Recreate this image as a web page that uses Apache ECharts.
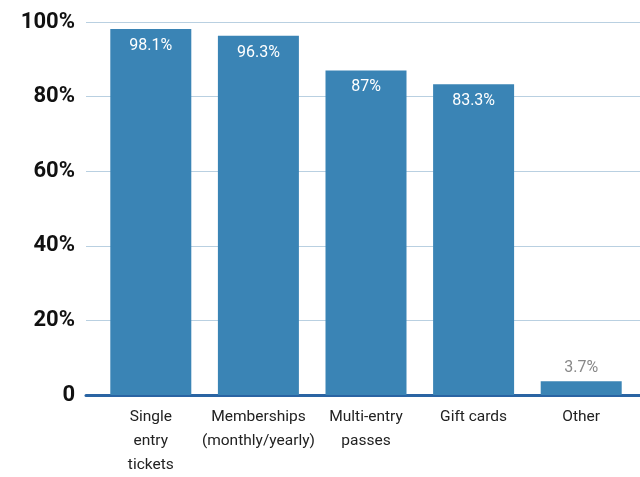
<!DOCTYPE html>
<html><head><meta charset="utf-8">
<script src="https://cdn.jsdelivr.net/npm/echarts@6/dist/echarts.min.js"></script>
<style>html,body{margin:0;padding:0;background:#fff}#c{width:640px;height:477px}</style>
</head><body><div id="c"></div>
<script>
const categories = ["Single\nentry\ntickets", "Memberships\n(monthly/yearly)", "Multi-entry\npasses", "Gift cards", "Other"];
const values = [98.1, 96.3, 87, 83.3, 3.7];
const yTicks = [0, 20, 40, 60, 80, 100];

const chart = echarts.init(document.getElementById('c'));
chart.setOption({
  animation: false,
  grid: [
    {left: 86, right: 0, top: 22, bottom: 82},
    {left: 97, right: 5, top: 22, bottom: 82}
  ],
  xAxis: [
    {type: 'value', gridIndex: 0, min: 0, max: 1, show: true,
     axisLine: {show: true, lineStyle: {color: '#2a64a3', width: 3}},
     axisTick: {show: false}, axisLabel: {show: false}, splitLine: {show: false}},
    {type: 'category', gridIndex: 1, data: categories,
     axisLine: {show: false}, axisTick: {show: false},
     axisLabel: {color: '#222', fontFamily: 'Roboto', fontSize: 15.5, lineHeight: 24, margin: 10, interval: 0}}
  ],
  yAxis: [
    {type: 'value', gridIndex: 0, min: 0, max: 100, interval: 20,
     axisLine: {show: false}, axisTick: {show: false},
     splitLine: {lineStyle: {color: '#b9d0e1', width: 1}},
     axisLabel: {color: '#111', fontFamily: 'Roboto', fontWeight: 'bold', fontSize: 22, margin: 11,
       formatter: v => yTicks.includes(v) ? (v === 0 ? '0' : v + '%') : ''}},
    {type: 'value', gridIndex: 1, min: 0, max: 100, interval: 20, show: false}
  ],
  series: [{
    type: 'bar', xAxisIndex: 1, yAxisIndex: 1, data: values.map(v => ({
      value: v,
      label: v < 10 ? {position: 'top', color: '#888', distance: 5} : {position: 'insideTop', color: '#fff', distance: 9}
    })),
    barWidth: 81,
    itemStyle: {color: '#3a84b5'},
    label: {show: true, fontFamily: 'Roboto', fontSize: 16, formatter: p => p.value + '%'}
  }]
});
</script></body></html>
